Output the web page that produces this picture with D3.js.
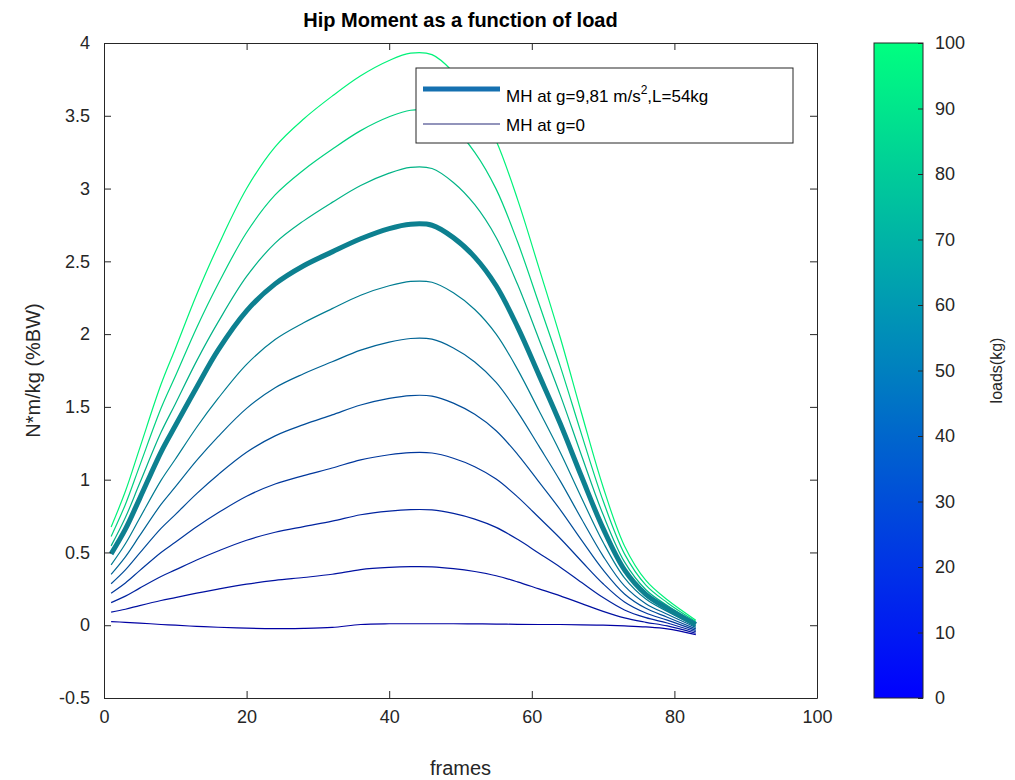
<!DOCTYPE html>
<html>
<head>
<meta charset="utf-8">
<title>Hip Moment as a function of load</title>
<script src="https://cdnjs.cloudflare.com/ajax/libs/d3/7.8.5/d3.min.js"></script>
<style>
    * { margin: 0; padding: 0; }
    body { background: #fff; }
    text { font-family: "Liberation Sans", Arial, Helvetica, sans-serif; }
</style>
</head>
<body>
<script>
// frames sampled along the curves
var frames = [1, 3, 5, 8, 10, 13, 16, 20, 24, 28, 32, 36, 40, 43, 46, 49, 52, 55, 58, 61, 64, 67, 70, 73, 76, 79, 83];

// hip moment (N*m/kg) per load
var mh0   = [0.025, 0.02, 0.015, 0.005, 0.0, -0.008, -0.014, -0.02, -0.023, -0.022, -0.015, 0.005, 0.01, 0.01, 0.01, 0.01, 0.009, 0.008, 0.006, 0.005, 0.005, 0.003, 0.0, -0.005, -0.012, -0.025, -0.065];
var mh10  = [0.09, 0.11, 0.135, 0.17, 0.19, 0.22, 0.248, 0.282, 0.308, 0.328, 0.35, 0.382, 0.397, 0.402, 0.401, 0.389, 0.369, 0.34, 0.298, 0.25, 0.202, 0.148, 0.095, 0.05, 0.02, -0.005, -0.055];
var mh20  = [0.155, 0.2, 0.255, 0.335, 0.38, 0.448, 0.51, 0.584, 0.639, 0.678, 0.715, 0.759, 0.784, 0.794, 0.792, 0.768, 0.729, 0.672, 0.59, 0.495, 0.399, 0.293, 0.19, 0.105, 0.052, 0.015, -0.045];
var mh30  = [0.22, 0.29, 0.375, 0.5, 0.57, 0.676, 0.772, 0.886, 0.97, 1.028, 1.08, 1.136, 1.171, 1.186, 1.183, 1.147, 1.089, 1.004, 0.882, 0.74, 0.596, 0.438, 0.285, 0.16, 0.084, 0.035, -0.035];
var mh40  = [0.285, 0.38, 0.495, 0.665, 0.76, 0.904, 1.034, 1.188, 1.301, 1.378, 1.445, 1.513, 1.558, 1.578, 1.574, 1.526, 1.449, 1.336, 1.174, 0.985, 0.793, 0.583, 0.38, 0.215, 0.116, 0.055, -0.025];
var mh50  = [0.35, 0.47, 0.615, 0.83, 0.95, 1.132, 1.296, 1.49, 1.632, 1.728, 1.81, 1.89, 1.945, 1.97, 1.965, 1.905, 1.809, 1.668, 1.466, 1.23, 0.99, 0.728, 0.475, 0.27, 0.148, 0.075, -0.015];
var mh60  = [0.415, 0.56, 0.735, 0.995, 1.14, 1.36, 1.558, 1.792, 1.963, 2.078, 2.175, 2.267, 2.332, 2.362, 2.356, 2.284, 2.169, 2.0, 1.758, 1.475, 1.187, 0.873, 0.57, 0.325, 0.18, 0.095, -0.005];
var mh80  = [0.545, 0.74, 0.975, 1.325, 1.52, 1.816, 2.082, 2.396, 2.625, 2.778, 2.905, 3.021, 3.106, 3.146, 3.138, 3.042, 2.889, 2.664, 2.342, 1.965, 1.581, 1.163, 0.76, 0.435, 0.244, 0.135, 0.015];
var mh90  = [0.61, 0.83, 1.095, 1.49, 1.71, 2.044, 2.344, 2.698, 2.956, 3.128, 3.27, 3.398, 3.493, 3.538, 3.529, 3.421, 3.249, 2.996, 2.634, 2.21, 1.778, 1.308, 0.855, 0.49, 0.276, 0.155, 0.025];
var mh100 = [0.675, 0.92, 1.215, 1.655, 1.9, 2.272, 2.606, 3.0, 3.287, 3.478, 3.635, 3.775, 3.88, 3.93, 3.92, 3.8, 3.609, 3.328, 2.926, 2.455, 1.975, 1.453, 0.95, 0.545, 0.308, 0.175, 0.035];

// MH at g=9.81, L=54kg (the thick curve, sits in the 70 kg slot)
var mhLoaded = [0.49, 0.66, 0.87, 1.19, 1.37, 1.635, 1.89, 2.16, 2.345, 2.47, 2.565, 2.655, 2.725, 2.755, 2.748, 2.663, 2.529, 2.332, 2.05, 1.72, 1.384, 1.018, 0.665, 0.38, 0.212, 0.115, 0.005];

var loads = [0, 10, 20, 30, 40, 50, 60, 80, 90, 100];
var loadSeries = [mh0, mh10, mh20, mh30, mh40, mh50, mh60, mh80, mh90, mh100];

var xTicks = [0, 20, 40, 60, 80, 100];
var yTicks = [-0.5, 0, 0.5, 1, 1.5, 2, 2.5, 3, 3.5, 4];
var cbTicks = [0, 10, 20, 30, 40, 50, 60, 70, 80, 90, 100];
var legendLabels = ["MH at g=9,81 m/s", "MH at g=0"];

var W = 1015, H = 780;
var plot = {left: 104, right: 817, top: 43, bottom: 698};
var cb = {left: 874, right: 923};
var axisColor = "#262626";

var svg = d3.select("body").append("svg")
    .attr("width", W)
    .attr("height", H);

svg.append("rect").attr("width", W).attr("height", H).attr("fill", "#fff");

var x = d3.scaleLinear().domain([0, 100]).range([plot.left, plot.right]);
var y = d3.scaleLinear().domain([-0.5, 4]).range([plot.bottom, plot.top]);
var cbScale = d3.scaleLinear().domain([0, 100]).range([plot.bottom, plot.top]);

// MATLAB "winter" colormap
function winter(t) {
    return d3.rgb(0, 255 * t, 255 * (1 - t / 2));
}
function lineColor(load) {
    var t = load / 100;
    return winter(t).darker(1.1 * (1 - t) + 0.15).formatHex();
}

var line = d3.line()
    .x(function(d, i) { return x(frames[i]); })
    .y(function(d) { return y(d); })
    .curve(d3.curveCatmullRom.alpha(0.5));

var plotArea = svg.append("g").attr("class", "curves");

plotArea.selectAll(".load-line")
    .data(loadSeries)
    .enter().append("path")
    .attr("class", "load-line")
    .attr("fill", "none")
    .attr("stroke", function(d, i) { return lineColor(loads[i]); })
    .attr("stroke-width", 1.2)
    .attr("d", line);

plotArea.append("path")
    .datum(mhLoaded)
    .attr("fill", "none")
    .attr("stroke", "#0d8090")
    .attr("stroke-width", 5)
    .attr("stroke-linejoin", "round")
    .attr("d", line);

// axes box with inward ticks on all sides
var tickLen = 7;
var numFmt = function(d) { return String(d); };
svg.append("g")
    .attr("transform", "translate(0," + plot.bottom + ")")
    .call(d3.axisBottom(x).tickValues(xTicks).tickSizeInner(-tickLen).tickSizeOuter(0).tickPadding(12).tickFormat(numFmt))
    .call(styleAxis);
svg.append("g")
    .attr("transform", "translate(0," + plot.top + ")")
    .call(d3.axisTop(x).tickValues(xTicks).tickSizeInner(-tickLen).tickSizeOuter(0).tickFormat(""))
    .call(styleAxis);
svg.append("g")
    .attr("transform", "translate(" + plot.left + ",0)")
    .call(d3.axisLeft(y).tickValues(yTicks).tickSizeInner(-tickLen).tickSizeOuter(0).tickPadding(14).tickFormat(numFmt))
    .call(styleAxis);
svg.append("g")
    .attr("transform", "translate(" + plot.right + ",0)")
    .call(d3.axisRight(y).tickValues(yTicks).tickSizeInner(-tickLen).tickSizeOuter(0).tickFormat(""))
    .call(styleAxis);

function styleAxis(g) {
    g.select(".domain").attr("stroke", axisColor).attr("stroke-width", 1);
    g.selectAll(".tick line").attr("stroke", axisColor);
    g.selectAll(".tick text")
        .attr("fill", axisColor)
        .style("font-size", "18px")
        .style("font-family", "'Liberation Sans', Arial, sans-serif");
}

// title and axis labels
svg.append("text")
    .attr("x", (plot.left + plot.right) / 2)
    .attr("y", 27)
    .attr("text-anchor", "middle")
    .attr("fill", "#000")
    .style("font-size", "20px")
    .style("font-weight", "bold")
    .text("Hip Moment as a function of load");

svg.append("text")
    .attr("x", (plot.left + plot.right) / 2)
    .attr("y", 775)
    .attr("text-anchor", "middle")
    .attr("fill", axisColor)
    .style("font-size", "20px")
    .text("frames");

svg.append("text")
    .attr("transform", "translate(40," + ((plot.top + plot.bottom) / 2) + ") rotate(-90)")
    .attr("text-anchor", "middle")
    .attr("fill", axisColor)
    .style("font-size", "20px")
    .text("N*m/kg (%BW)");

// legend
var legend = svg.append("g").attr("id", "legend");
legend.append("rect")
    .attr("x", 416).attr("y", 68)
    .attr("width", 377).attr("height", 75)
    .attr("fill", "#fff")
    .attr("stroke", "#262626");
legend.append("line")
    .attr("x1", 423).attr("x2", 500).attr("y1", 89).attr("y2", 89)
    .attr("stroke", "#1570b0").attr("stroke-width", 5);
legend.append("line")
    .attr("x1", 423).attr("x2", 500).attr("y1", 124).attr("y2", 124)
    .attr("stroke", "#262a78").attr("stroke-width", 1.2);
var lt = legend.append("text")
    .attr("x", 506).attr("y", 102)
    .attr("fill", "#000")
    .style("font-size", "17px");
lt.append("tspan").text(legendLabels[0]);
lt.append("tspan").attr("dy", -8).style("font-size", "12px").text("2");
lt.append("tspan").attr("dy", 8).text(",L=54kg");
legend.append("text")
    .attr("x", 506).attr("y", 131)
    .attr("fill", "#000")
    .style("font-size", "17px")
    .text(legendLabels[1]);

// colorbar
var defs = svg.append("defs");
var grad = defs.append("linearGradient")
    .attr("id", "winter")
    .attr("x1", 0).attr("y1", 1).attr("x2", 0).attr("y2", 0);
d3.range(0, 1.0001, 0.1).forEach(function(t) {
    grad.append("stop").attr("offset", t).attr("stop-color", winter(t).formatHex());
});
svg.append("rect")
    .attr("x", cb.left).attr("y", plot.top)
    .attr("width", cb.right - cb.left).attr("height", plot.bottom - plot.top)
    .attr("fill", "url(#winter)")
    .attr("stroke", "#262626");

svg.append("g")
    .attr("transform", "translate(" + cb.right + ",0)")
    .call(d3.axisRight(cbScale).tickValues(cbTicks).tickSizeInner(-5).tickSizeOuter(0).tickPadding(12))
    .call(styleAxis)
    .call(function(g) { g.select(".domain").remove(); });

svg.append("text")
    .attr("transform", "translate(1002," + ((plot.top + plot.bottom) / 2) + ") rotate(-90)")
    .attr("text-anchor", "middle")
    .attr("fill", axisColor)
    .style("font-size", "16px")
    .text("loads(kg)");
</script>
</body>
</html>
